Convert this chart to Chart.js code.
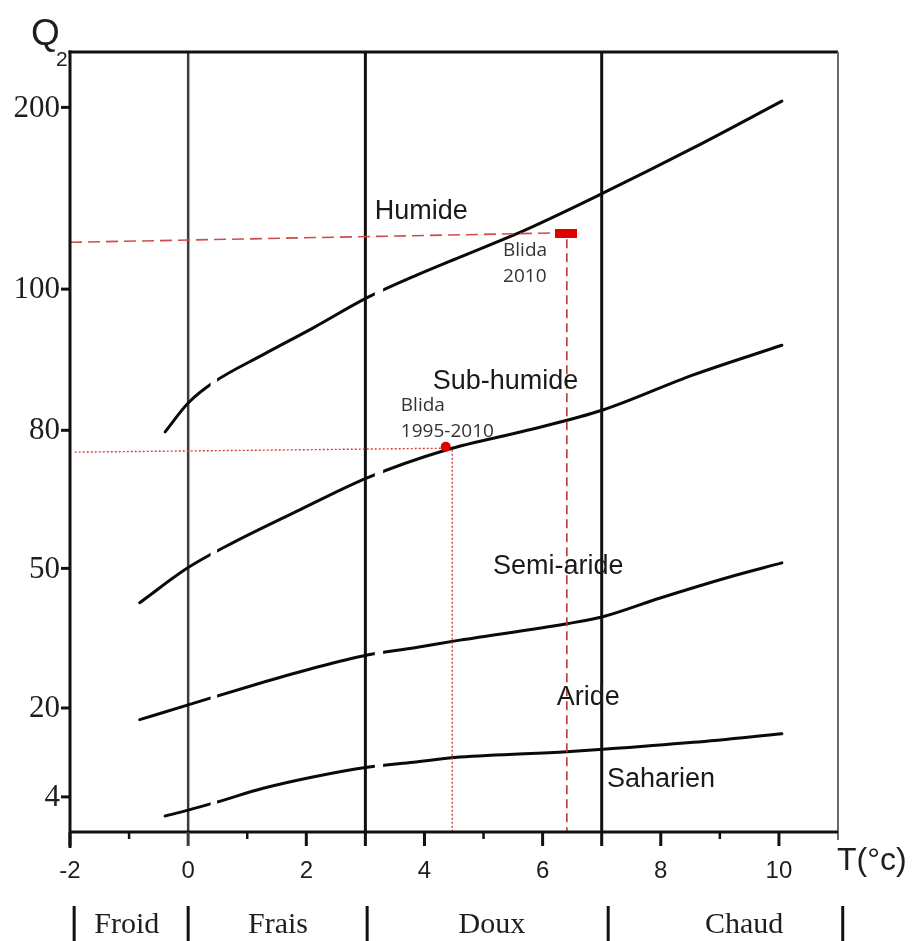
<!DOCTYPE html>
<html><head><meta charset="utf-8">
<script src="https://cdn.jsdelivr.net/npm/chart.js@4.4.1/dist/chart.umd.min.js"></script>
<style>html,body{margin:0;padding:0;background:#fff}#wrap{width:915px;height:941px;position:relative}</style>
</head><body><div id="wrap"><canvas id="c"></canvas></div>
<script>
// ---- Data (T in °C, vertical value in plot position units of the Q2 axis) ----
const yTickPos    = [4.5, 15.9, 33.8, 51.5, 69.6, 92.9];
const yTickLabels = ['4', '20', '50', '80', '100', '200'];
const xTickValues = [-2, -1, 0, 1, 2, 3, 4, 5, 6, 7, 8, 9, 10];
const xLabelValues = [-2, 0, 2, 4, 6, 8, 10];
const xTickLabels = ['-2', '0', '2', '4', '6', '8', '10'];

const boundaryT = [0, 3, 7];

const humideLimitT = [-0.39, 0.00, 0.42, 1.27, 2.11, 3.03, 3.81, 4.60, 5.74, 7.02, 8.55, 10.05];
const humideLimitQ = [51.3, 55.0, 57.6, 61.2, 64.6, 68.5, 71.2, 73.7, 77.3, 81.9, 87.7, 93.7];

const subhumideLimitT = [-0.82, 0.00, 0.76, 1.89, 3.03, 4.38, 5.74, 7.02, 8.55, 10.05];
const subhumideLimitQ = [29.4, 33.9, 37.1, 41.3, 45.4, 49.0, 51.5, 54.1, 58.6, 62.4];

const semiarideLimitT = [-0.82, 0.00, 1.27, 2.11, 3.03, 3.81, 4.60, 6.41, 7.02, 7.99, 9.12, 10.05];
const semiarideLimitQ = [14.4, 16.3, 19.2, 21.0, 22.7, 23.6, 24.6, 26.7, 27.6, 30.0, 32.6, 34.5];

const arideLimitT = [-0.39, 0.00, 0.49, 1.27, 2.11, 3.03, 3.81, 4.60, 6.41, 7.02, 8.55, 10.05];
const arideLimitQ = [2.05, 2.8, 3.85, 5.6, 7.05, 8.3, 8.95, 9.6, 10.3, 10.6, 11.5, 12.6];

const curveGapsT = [[0.38, 0.49], [3.16, 3.30]];

const blida2010T = [6.40];
const blida2010Q = [76.7];
const blida2010GuideT = [-2, 6.21];
const blida2010GuideQ = [75.6, 76.8];
const blida2010DropT = [6.41, 6.41];
const blida2010DropQ = [76.0, 0];

const blidaAvgT = [4.36];
const blidaAvgQ = [49.4];
const blidaAvgGuideT = [-1.92, 4.36];
const blidaAvgGuideQ = [48.7, 49.2];
const blidaAvgDropT = [4.47, 4.47];
const blidaAvgDropQ = [49.0, 0];

const regionNames = ['Humide', 'Sub-humide', 'Semi-aride', 'Aride', 'Saharien'];
const regionAnchorT = [3.16, 4.14, 5.16, 6.24, 7.09];
const regionAnchorQ = [79.6, 57.8, 34.0, 17.3, 6.7];

const zoneNames = ['Froid', 'Frais', 'Doux', 'Chaud'];
const zoneCenterT = [-1.04, 1.52, 5.14, 9.41];
const zoneSeparatorT = [-1.93, 0, 3.03, 7.11, 11.08];

// ---- helpers ----
const pts = (ts, qs) => ts.map((t, i) => ({x: t, y: qs[i]}));

const barCanvas = document.createElement('canvas');
barCanvas.width = 22; barCanvas.height = 9;
{ const g = barCanvas.getContext('2d'); g.fillStyle = '#e00000'; g.fillRect(0, 0, 22, 9); }

const curve = (data) => ({
  data, showLine: true, borderColor: '#0a0a0a', borderWidth: 3, pointRadius: 0,
  cubicInterpolationMode: 'monotone', gapped: true, borderCapStyle: 'round'
});
const vline = (t, color, w) => ({
  data: [{x: t, y: 0}, {x: t, y: 100}], showLine: true, borderColor: color, borderWidth: w, pointRadius: 0
});

const datasets = [
  {data: pts(blida2010T, blida2010Q), pointStyle: barCanvas, pointRadius: 11, showLine: false},
  {data: pts(blidaAvgT, blidaAvgQ), pointRadius: 5, pointBackgroundColor: '#e00000', pointBorderWidth: 0, showLine: false},
  {data: pts(blida2010GuideT, blida2010GuideQ), showLine: true, borderColor: '#cf4c4c', borderWidth: 1.6, borderDash: [12, 6], pointRadius: 0},
  {data: pts(blida2010DropT, blida2010DropQ), showLine: true, borderColor: '#b83a3a', borderWidth: 1.6, borderDash: [9, 5], pointRadius: 0},
  {data: pts(blidaAvgGuideT, blidaAvgGuideQ), showLine: true, borderColor: '#d24040', borderWidth: 1.4, borderDash: [2, 2], pointRadius: 0},
  {data: pts(blidaAvgDropT, blidaAvgDropQ), showLine: true, borderColor: '#d24040', borderWidth: 1.4, borderDash: [2, 2], pointRadius: 0},
  curve(pts(humideLimitT, humideLimitQ)),
  curve(pts(subhumideLimitT, subhumideLimitQ)),
  curve(pts(semiarideLimitT, semiarideLimitQ)),
  curve(pts(arideLimitT, arideLimitQ)),
  vline(boundaryT[0], '#3c3c3c', 2.5),
  vline(boundaryT[1], '#111', 3),
  vline(boundaryT[2], '#111', 3),
];

const gapClip = {
  id: 'gapClip',
  beforeDatasetDraw(chart, args) {
    const ds = chart.data.datasets[args.index];
    if (!ds.gapped) return;
    const {ctx, chartArea: a, scales: {x}} = chart;
    ctx.save();
    ctx.beginPath();
    ctx.rect(a.left - 10, a.top - 10, a.width + 20, a.height + 20);
    curveGapsT.forEach(([t0, t1]) => {
      const p0 = x.getPixelForValue(t0), p1 = x.getPixelForValue(t1);
      ctx.rect(p0, a.top - 10, p1 - p0, a.height + 20);
    });
    ctx.clip('evenodd');
  },
  afterDatasetDraw(chart, args) {
    const ds = chart.data.datasets[args.index];
    if (ds.gapped) chart.ctx.restore();
  }
};

const deco = {
  id: 'deco',
  afterDraw(chart) {
    const {ctx, chartArea: a, scales: {x, y}} = chart;
    const seg = (x0, y0, x1, y1, c, w) => {
      ctx.beginPath(); ctx.moveTo(x0, y0); ctx.lineTo(x1, y1);
      ctx.strokeStyle = c; ctx.lineWidth = w; ctx.stroke();
    };
    ctx.save();
    ctx.lineCap = 'butt';
    // frame
    seg(a.left - 1.5, a.top, a.right, a.top, '#111', 3);
    seg(a.right, a.top, a.right, a.bottom + 8, '#6a6a6a', 2);
    seg(a.left, a.bottom, a.right, a.bottom, '#111', 3);
    seg(a.left, a.top - 1.5, a.left, a.bottom + 16, '#111', 3);
    // y ticks
    ctx.fillStyle = '#1e1e1e';
    ctx.font = '31px "Liberation Serif"';
    ctx.textAlign = 'right'; ctx.textBaseline = 'middle';
    yTickPos.forEach((v, i) => {
      const py = y.getPixelForValue(v);
      seg(a.left - 9, py, a.left, py, '#111', 3);
      ctx.fillText(yTickLabels[i], a.left - 10, py + 1);
    });
    // x ticks
    xTickValues.forEach(v => {
      const px = x.getPixelForValue(v);
      const major = v % 2 === 0 || boundaryT.includes(v);
      seg(px, a.bottom, px, a.bottom + (major ? 14 : 7), v === 0 ? '#3c3c3c' : '#111', major ? 3 : 2.5);
    });
    ctx.font = '24px "Liberation Sans"';
    ctx.textAlign = 'center';
    xLabelValues.forEach((v, i) => {
      ctx.fillText(xTickLabels[i], x.getPixelForValue(v), a.bottom + 39);
    });
    // axis titles
    ctx.textAlign = 'left'; ctx.textBaseline = 'alphabetic';
    ctx.font = '37px "Liberation Sans"';
    ctx.fillText('Q', 31, 45);
    ctx.font = '21px "Liberation Sans"';
    ctx.fillText('2', 56, 66);
    ctx.font = '32px "Liberation Sans"';
    ctx.textBaseline = 'middle';
    ctx.fillText('T(°c)', a.right - 1, a.bottom + 29);
    // zones
    ctx.font = '30px "Liberation Serif"';
    ctx.textAlign = 'center'; ctx.textBaseline = 'alphabetic';
    zoneNames.forEach((n, i) => ctx.fillText(n, x.getPixelForValue(zoneCenterT[i]), 933));
    zoneSeparatorT.forEach(t => {
      const px = x.getPixelForValue(t);
      seg(px, 906, px, 941, '#111', 3);
    });
    // region labels
    ctx.font = '27px "Liberation Sans"';
    ctx.textAlign = 'left'; ctx.textBaseline = 'middle';
    ctx.fillStyle = '#1a1a1a';
    regionNames.forEach((n, i) => ctx.fillText(n, x.getPixelForValue(regionAnchorT[i]), y.getPixelForValue(regionAnchorQ[i])));
    // station labels
    ctx.font = '19px "Open Sans"';
    ctx.fillStyle = '#333';
    ctx.fillText('Blida', x.getPixelForValue(5.33), y.getPixelForValue(74.5));
    ctx.fillText('2010', x.getPixelForValue(5.33), y.getPixelForValue(71.15));
    ctx.fillText('Blida', x.getPixelForValue(3.60), y.getPixelForValue(54.7));
    ctx.fillText('1995-2010', x.getPixelForValue(3.60), y.getPixelForValue(51.3));
    ctx.restore();
  }
};

new Chart(document.getElementById('c'), {
  type: 'scatter',
  data: {datasets},
  options: {
    responsive: true, maintainAspectRatio: false, animation: false,
    layout: {padding: {left: 70, top: 52, right: 77, bottom: 109}},
    plugins: {legend: {display: false}, tooltip: {enabled: false}},
    scales: {
      x: {type: 'linear', min: -2, max: 11, display: false},
      y: {type: 'linear', min: 0, max: 100, display: false}
    }
  },
  plugins: [gapClip, deco]
});
</script>
</body></html>
